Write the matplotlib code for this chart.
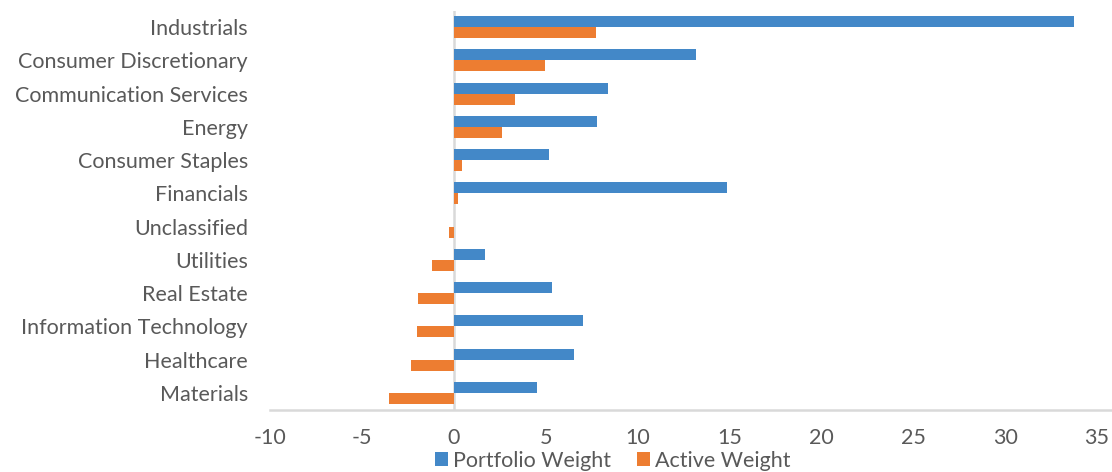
import matplotlib.pyplot as plt
import numpy as np

# sector weights (%)
sectors = ["Industrials", "Consumer Discretionary", "Communication Services", "Energy",
           "Consumer Staples", "Financials", "Unclassified", "Utilities", "Real Estate",
           "Information Technology", "Healthcare", "Materials"]
portfolio_weight = [33.75, 13.2, 8.38, 7.78, 5.17, 14.86, 0.0, 1.69, 5.33, 7.02, 6.53, 4.52]
active_weight = [7.73, 4.95, 3.32, 2.61, 0.44, 0.22, -0.27, -1.2, -1.96, -2.01, -2.34, -3.54]
xticks = [-10, -5, 0, 5, 10, 15, 20, 25, 30, 35]

plt.rcParams['font.family'] = ['Lato', 'DejaVu Sans']
grey_txt = '#595959'
grey_line = '#D9D9D9'

fig = plt.figure(figsize=(11.12, 4.72), dpi=100)
ax = fig.add_axes([270/1112, 1 - 409.5/472, 1 - 270/1112, (409.5 - 10.5)/472])

y = np.arange(len(sectors))
h = 0.33
ax.barh(y - h/2, portfolio_weight, height=h, color='#4388C8', label='Portfolio Weight')
ax.barh(y + h/2, active_weight, height=h, color='#ED7D31', label='Active Weight')

ax.set_ylim(len(sectors) - 0.5, -0.5)
ax.set_xlim(-10, 35.82)
ax.axvline(0, color=grey_line, lw=1.8, zorder=0)

for s in ['top', 'right', 'left']:
    ax.spines[s].set_visible(False)
ax.spines['bottom'].set_color(grey_line)
ax.spines['bottom'].set_linewidth(1.8)

ax.set_yticks(y)
ax.set_yticklabels(sectors)
ax.set_xticks(xticks)
ax.set_xticklabels([str(v) for v in xticks])
ax.tick_params(axis='y', length=0, pad=16, labelsize=15.5, labelcolor=grey_txt)
ax.tick_params(axis='x', length=0, pad=13, labelsize=15.5, labelcolor=grey_txt)

fig.legend(loc='center', bbox_to_anchor=(0.551, 0.024), ncol=2, frameon=False,
           fontsize=15.5, labelcolor=grey_txt, handlelength=0.6, handleheight=0.6,
           handletextpad=0.25, columnspacing=1.2, borderpad=0.05)

fig.savefig('out.png', dpi=100)
